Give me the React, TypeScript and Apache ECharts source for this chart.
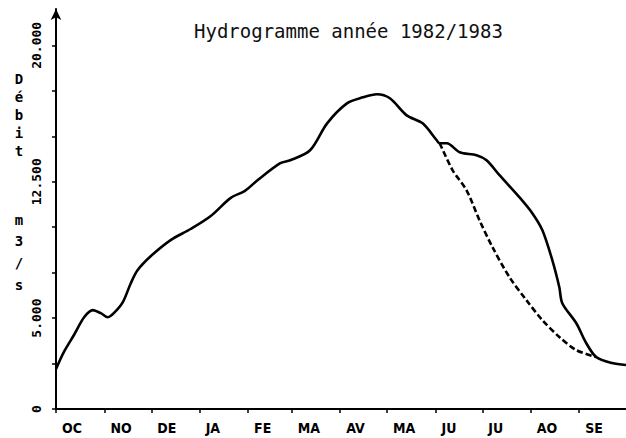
import React, { useEffect, useRef } from "react";
import * as echarts from "echarts";

// Hydrogramme 1982/1983 — days counted from 1 October 1982
const monthLabels = ["OC", "NO", "DE", "JA", "FE", "MA", "AV", "MA", "JU", "JU", "AO", "SE"];
const monthStartDays = [0, 31, 61, 92, 123, 151, 182, 212, 243, 273, 304, 335];

const yTickValues = [0, 2.5, 5, 7.5, 10, 12.5, 15, 17.5, 20];
const yLabelValues = [0, 5, 12.5, 20];
const yLabelTexts = ["0", "5.000", "12.500", "20.000"];

// observed discharge (solid line)
const observedDays = [0, 5, 11.5, 18, 23.6, 28.7, 33.2, 37, 42.8, 47.9, 52.3, 60.6, 73.4, 86.2, 98.9, 111.7, 121, 129, 143.6, 150, 162.7, 173.6, 186.3, 196.6, 205.5, 213.8, 224.6, 234.8, 243.8, 245.7, 250.2, 258.5, 269.3, 275.7, 284, 296.7, 305, 311.4, 317.8, 322.3, 324.2, 333.1, 339.5, 345.9, 356.1, 365];
const observedFlow = [2.2, 3.13, 4.07, 5.05, 5.44, 5.27, 5.05, 5.27, 5.88, 6.92, 7.64, 8.4, 9.29, 9.9, 10.6, 11.6, 12.0, 12.58, 13.52, 13.68, 14.23, 15.71, 16.81, 17.14, 17.31, 17.09, 16.15, 15.71, 14.78, 14.62, 14.62, 14.12, 13.96, 13.68, 12.86, 11.65, 10.77, 9.84, 8.19, 6.7, 5.82, 4.73, 3.63, 2.86, 2.53, 2.42];

// alternative recession (dashed line)
const dashedDays = [245.7, 254, 262.9, 271.2, 279.5, 290.4, 301.2, 311.4, 322.3, 333.1, 345.9];
const dashedFlow = [14.62, 13.13, 12.03, 10.38, 8.9, 7.25, 5.99, 4.89, 3.96, 3.24, 2.86];

const titleText = "Hydrogramme année 1982/1983";
const axisNameTop = ["D", "é", "b", "i", "t"];
const axisNameBottom = ["m", "3", "/", "s"];

export default function App() {
  const ref = useRef<HTMLDivElement>(null);
  useEffect(() => {
    if (!ref.current) return;
    const chart = echarts.init(ref.current, null, { renderer: "svg" });
    const labelFont = "'DejaVu Sans Condensed', 'DejaVu Sans', sans-serif";
    const charStyle = (t: string) => ({
      text: t,
      fontFamily: "'DejaVu Sans Mono', monospace",
      fontWeight: "bold",
      fontSize: 14,
      fill: "#000",
      align: "center",
      verticalAlign: "middle",
    });
    const topYs = [79, 97, 115, 133, 151];
    const bottomYs = [220, 241, 263, 285];
    const nameGraphics = [
      ...axisNameTop.map((c, i) => ({ type: "text", x: 19, y: topYs[i], style: charStyle(c) })),
      ...axisNameBottom.map((c, i) => ({ type: "text", x: 19, y: bottomYs[i], style: charStyle(c) })),
    ];
    chart.setOption({
      animation: false,
      backgroundColor: "#ffffff",
      title: {
        text: titleText,
        left: 189,
        top: 16,
        textStyle: {
          fontFamily: "'DejaVu Sans Mono', monospace",
          fontSize: 19,
          fontWeight: "normal",
          color: "#111",
        },
      },
      grid: { left: 56, right: 0, top: 9, bottom: 29, containLabel: false },
      xAxis: {
        type: "value",
        min: 0,
        max: 365,
        splitLine: { show: false },
        axisLine: { lineStyle: { color: "#000", width: 2 } },
        axisTick: { customValues: monthStartDays, length: 4, lineStyle: { color: "#000", width: 1.5 } },
        axisLabel: {
          customValues: monthStartDays,
          formatter: (v: number) => {
            const i = monthStartDays.indexOf(Math.round(v));
            return i >= 0 ? monthLabels[i] : "";
          },
          align: "left",
          padding: [0, 0, 0, 6],
          margin: 12,
          color: "#000",
          fontFamily: labelFont,
          fontWeight: "bold",
          fontSize: 14,
        },
      },
      yAxis: {
        type: "value",
        min: 0,
        max: 22,
        splitLine: { show: false },
        axisLine: {
          lineStyle: { color: "#000", width: 2 },
          symbol: ["none", "arrow"],
          symbolSize: [8, 11],
        },
        axisTick: { customValues: yTickValues, length: 4, lineStyle: { color: "#000", width: 1.5 } },
        axisLabel: {
          customValues: yLabelValues,
          formatter: (v: number) => {
            const i = yLabelValues.findIndex((x) => Math.abs(x - v) < 1e-6);
            return i >= 0 ? yLabelTexts[i] : "";
          },
          rotate: 90,
          margin: 13,
          color: "#000",
          fontFamily: "'DejaVu Sans Mono', monospace",
          fontWeight: "bold",
          fontSize: 13,
        },
      },
      graphic: nameGraphics,
      series: [
        {
          type: "line",
          data: observedDays.map((d, i) => [d, observedFlow[i]]),
          smooth: 0.3,
          showSymbol: false,
          lineStyle: { color: "#000", width: 2.6 },
        },
        {
          type: "line",
          data: dashedDays.map((d, i) => [d, dashedFlow[i]]),
          smooth: 0.3,
          showSymbol: false,
          lineStyle: { color: "#000", width: 2.6, type: [6, 3] },
        },
      ],
    });
    return () => chart.dispose();
  }, []);
  return (
    <div
      ref={ref}
      style={{ position: "fixed", left: 0, top: 0, width: 626, height: 438, background: "#fff" }}
    />
  );
}
